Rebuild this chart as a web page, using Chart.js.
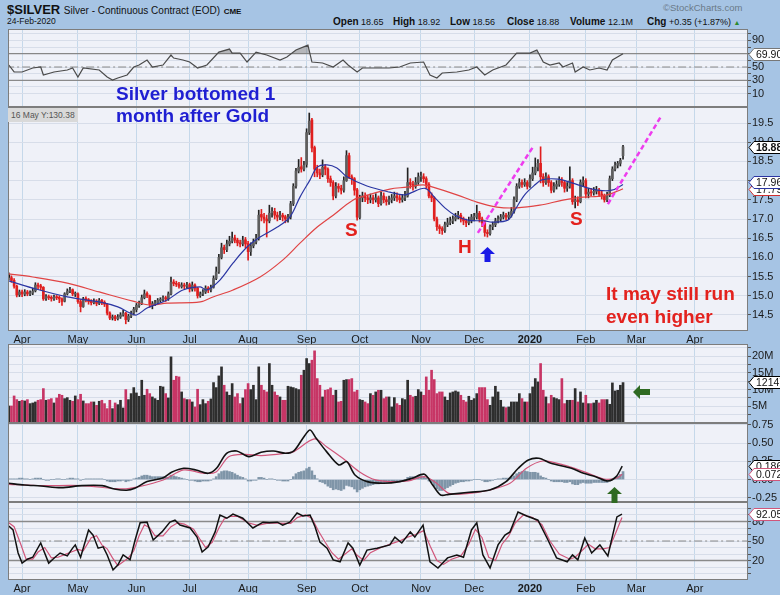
<!DOCTYPE html>
<html><head><meta charset="utf-8">
<script src="https://cdn.jsdelivr.net/npm/chart.js@4.4.1/dist/chart.umd.min.js"></script>
<style>
html,body{margin:0;padding:0}
body{width:780px;height:595px;background:#a6c4e4;position:relative;overflow:hidden;font-family:"Liberation Sans",Arial,sans-serif;color:#111}
.pn{position:absolute;left:8px;width:772px}
.pn canvas{display:block}
.t{position:absolute;white-space:nowrap;line-height:1}
.ann{position:absolute;white-space:nowrap;font-weight:bold;z-index:5}
.arr{position:absolute;z-index:5}
</style></head><body>
<div class="t" style="left:7px;top:3px;font-size:13px;font-weight:bold">$SILVER <span style="font-size:10px;font-weight:normal">Silver - Continuous Contract (EOD)</span> <span style="font-size:8px">CME</span></div>
<div class="t" style="left:7px;top:17px;font-size:8.5px">24-Feb-2020</div>
<div class="t" style="left:663px;top:3px;font-size:9.5px;color:#6b7a88">©StockCharts.com</div>
<div class="t" style="left:333px;top:17px;font-size:9px"><b style="font-size:10px">Open</b> 18.65</div>
<div class="t" style="left:393px;top:17px;font-size:9px"><b style="font-size:10px">High</b> 18.92</div>
<div class="t" style="left:450px;top:17px;font-size:9px"><b style="font-size:10px">Low</b> 18.56</div>
<div class="t" style="left:507px;top:17px;font-size:9px"><b style="font-size:10px">Close</b> 18.88</div>
<div class="t" style="left:570px;top:17px;font-size:9px"><b style="font-size:10px">Volume</b> 12.1M</div>
<div class="t" style="left:647px;top:17px;font-size:9px"><b style="font-size:10px">Chg</b> +0.35 (+1.87%) <span style="color:#2a8a2a;font-size:7px">▲</span></div>

<div class="ann" style="left:8px;top:108px;font-weight:normal;font-size:8.5px;color:#555;background:#d9d9d9;padding:2px 3px">16 May Y:130.38</div>
<div class="ann" style="left:116px;top:83px;font-size:19px;line-height:22px;color:#1f1fd2">Silver bottomed 1<br>month after Gold</div>
<div class="ann" style="left:345px;top:220px;font-size:19px;line-height:19px;color:#e3221e">S</div>
<div class="ann" style="left:458px;top:237px;font-size:19px;line-height:19px;color:#e3221e">H</div>
<div class="ann" style="left:570px;top:209px;font-size:19px;line-height:19px;color:#e3221e">S</div>
<div class="ann" style="left:606px;top:282px;font-size:19px;line-height:23px;color:#e3221e">It may still run<br>even higher</div>
<svg class="arr" style="left:480px;top:247px" width="15" height="15"><polygon points="7.5,0 15,7 10.5,7 10.5,15 4.5,15 4.5,7 0,7" fill="#1a1ae6"/></svg>
<svg class="arr" style="left:633px;top:385px" width="17" height="14"><polygon points="0,7 7,0 7,4 17,4 17,10 7,10 7,14" fill="#2f6a22"/></svg>
<svg class="arr" style="left:607px;top:487px" width="15" height="16"><polygon points="7.5,0 15,7 10.5,7 10.5,16 4.5,16 4.5,7 0,7" fill="#2f6a22"/></svg>

<script>
// ---------- DATA ----------
const monthLabels = ['Apr','May','Jun','Jul','Aug','Sep','Oct','Nov','Dec','2020','Feb','Mar','Apr'];
const monthIdx    = [5,26,48,68,90,112,132,155,175,196,217,236,258]; // trading-day index of month start (index 0 = 25-Mar-2019)

const opens = [
 15.55,15.47,15.40,15.25,15.03,
 15.10,15.04,15.10,15.04,15.07,15.13,15.28,15.26,15.22,14.93,14.98,14.96,14.92,14.97,14.96,14.92,14.86,15.05,15.12,15.16,15.04,
 15.05,14.85,14.72,14.93,14.90,14.86,14.82,14.86,14.80,14.88,14.83,14.78,14.55,14.42,14.46,14.40,14.45,14.50,14.55,14.38,14.47,14.55,
 14.64,14.74,14.80,14.95,15.06,15.00,14.77,14.78,14.82,14.88,14.91,14.95,14.92,15.05,15.36,15.32,15.30,15.24,15.28,15.25,
 15.29,15.17,15.28,15.20,15.00,15.05,15.10,15.20,15.15,15.22,15.45,15.62,16.00,16.26,16.20,16.35,16.42,16.51,16.45,16.38,16.35,16.46,
 16.36,16.15,16.30,16.40,16.50,17.12,17.05,17.00,16.95,17.16,17.20,17.10,17.05,17.10,17.06,17.00,17.05,17.40,17.86,18.25,18.36,18.30,
 18.42,19.25,19.58,18.86,18.30,18.20,18.15,18.36,18.30,18.05,17.95,17.60,17.85,17.80,17.75,18.00,18.65,18.10,18.05,17.76,
 17.04,17.55,17.60,17.55,17.50,17.55,17.50,17.55,17.40,17.60,17.50,17.45,17.50,17.55,17.60,17.55,17.50,17.55,17.60,17.95,17.90,17.85,17.95,
 18.10,18.10,18.05,17.90,17.60,17.55,17.00,16.80,16.75,16.70,16.85,16.90,16.95,17.00,17.05,17.10,17.00,16.95,16.90,16.95,
 17.05,17.05,17.15,17.00,16.90,16.65,16.62,16.80,16.85,16.95,17.00,17.05,17.10,17.05,17.10,17.20,17.50,17.85,17.95,17.90,17.95,
 17.86,18.05,18.20,18.35,18.45,18.10,17.95,18.10,17.95,17.75,17.85,17.90,18.00,17.95,17.80,17.85,18.00,17.45,17.50,17.45,17.95,
 18.00,17.65,17.70,17.68,17.72,17.75,17.65,17.60,17.50,17.62,18.05,18.30,18.40,18.45,18.65];
const highs = [
 15.60,15.52,15.45,15.28,15.15,
 15.15,15.16,15.14,15.13,15.20,15.34,15.33,15.30,15.24,15.03,15.02,15.00,15.02,15.01,15.00,14.95,15.08,15.18,15.22,15.18,15.10,
 15.08,14.90,14.96,14.97,14.93,14.90,14.92,14.90,14.93,14.91,14.87,14.80,14.58,14.50,14.49,14.51,14.56,14.62,14.57,14.52,14.60,14.70,
 14.80,14.86,15.02,15.15,15.10,15.02,14.85,14.88,14.93,14.95,15.00,14.99,15.10,15.49,15.42,15.38,15.35,15.34,15.33,15.35,
 15.33,15.36,15.31,15.22,15.10,15.16,15.26,15.24,15.28,15.52,15.75,16.08,16.37,16.32,16.45,16.55,16.66,16.58,16.50,16.45,16.55,16.52,
 16.42,16.38,16.48,16.60,17.23,17.25,17.15,17.10,17.36,17.30,17.28,17.18,17.20,17.15,17.10,17.12,17.46,17.92,18.32,18.55,18.60,18.50,
 19.35,19.76,19.62,18.90,18.40,18.30,18.54,18.42,18.33,18.12,18.00,17.95,17.92,17.88,18.10,18.78,18.72,18.15,18.08,17.80,
 17.62,17.70,17.68,17.62,17.65,17.62,17.66,17.60,17.70,17.68,17.58,17.60,17.64,17.70,17.68,17.62,17.64,17.72,18.33,18.05,17.98,18.08,18.20,
 18.22,18.18,18.10,17.95,17.68,17.58,17.05,16.85,16.80,16.92,17.02,17.05,17.08,17.15,17.20,17.15,17.05,17.00,17.05,17.12,
 17.15,17.36,17.20,17.05,16.95,16.72,16.85,16.92,17.02,17.08,17.12,17.18,17.15,17.18,17.30,17.58,17.92,18.05,18.02,18.05,18.00,
 18.15,18.35,18.59,18.55,18.88,18.18,18.20,18.15,18.00,17.95,18.00,18.10,18.08,18.00,17.95,18.36,18.05,17.60,17.58,18.02,18.10,
 18.05,17.80,17.80,17.82,17.85,17.80,17.72,17.65,17.70,18.12,18.36,18.48,18.50,18.58,18.92];
const lows = [
 15.42,15.35,15.20,14.97,14.98,
 14.98,15.00,15.00,15.00,15.03,15.10,15.18,15.15,14.88,14.88,14.90,14.86,14.88,14.90,14.82,14.75,14.84,15.02,15.08,15.00,14.98,
 14.80,14.58,14.70,14.84,14.78,14.76,14.79,14.74,14.77,14.77,14.72,14.50,14.38,14.37,14.35,14.37,14.41,14.47,14.27,14.33,14.43,14.50,
 14.58,14.70,14.77,14.92,14.95,14.70,14.66,14.74,14.78,14.83,14.86,14.85,14.88,15.02,15.26,15.24,15.20,15.20,15.18,15.20,
 15.10,15.12,15.12,14.94,14.96,15.00,15.06,15.08,15.10,15.20,15.42,15.58,15.96,16.10,16.15,16.30,16.38,16.38,16.30,16.27,16.30,16.25,
 15.93,16.05,16.25,16.35,16.45,16.95,16.90,16.53,16.90,17.05,17.00,16.95,16.98,16.95,16.90,16.92,17.00,17.35,17.80,18.20,18.22,18.25,
 18.35,19.20,18.75,18.10,18.10,18.05,18.10,18.15,17.95,17.85,17.50,17.55,17.70,17.65,17.70,17.98,18.05,17.90,17.62,16.97,
 17.00,17.45,17.45,17.40,17.42,17.40,17.44,17.32,17.36,17.42,17.36,17.38,17.42,17.48,17.46,17.42,17.44,17.48,17.57,17.80,17.75,17.80,17.90,
 17.98,17.95,17.80,17.55,17.45,16.95,16.70,16.62,16.60,16.65,16.80,16.85,16.88,16.95,17.00,16.92,16.85,16.80,16.85,16.90,
 16.95,17.00,16.92,16.80,16.55,16.53,16.58,16.72,16.80,16.90,16.95,17.00,16.98,17.00,17.05,17.15,17.45,17.80,17.82,17.85,17.78,
 17.82,18.00,18.15,18.25,17.94,17.85,17.90,17.85,17.68,17.70,17.78,17.85,17.85,17.70,17.72,17.80,17.38,17.29,17.35,17.42,17.85,
 17.55,17.55,17.60,17.62,17.65,17.58,17.52,17.44,17.45,17.58,18.00,18.25,18.33,18.38,18.56];
const closes = [
 15.48,15.40,15.25,15.02,15.10,
 15.05,15.10,15.05,15.08,15.12,15.28,15.25,15.22,14.92,14.98,14.95,14.93,14.97,14.95,14.92,14.85,15.05,15.12,15.15,15.05,15.05,
 14.85,14.72,14.92,14.90,14.85,14.82,14.85,14.80,14.88,14.82,14.78,14.55,14.42,14.45,14.40,14.45,14.50,14.55,14.38,14.47,14.55,14.65,
 14.75,14.80,14.95,15.05,15.00,14.78,14.78,14.82,14.88,14.90,14.95,14.92,15.05,15.35,15.32,15.30,15.25,15.28,15.25,15.28,
 15.18,15.28,15.20,15.00,15.05,15.10,15.20,15.15,15.22,15.45,15.62,16.00,16.25,16.20,16.35,16.42,16.50,16.45,16.38,16.35,16.45,16.35,
 16.15,16.30,16.40,16.50,17.10,17.05,17.00,16.95,17.15,17.20,17.10,17.05,17.10,17.05,17.00,17.05,17.40,17.85,18.25,18.35,18.30,18.40,
 19.25,19.55,18.85,18.30,18.20,18.15,18.35,18.30,18.05,17.95,17.60,17.85,17.80,17.75,18.00,18.65,18.10,18.05,17.75,17.05,
 17.55,17.60,17.55,17.50,17.55,17.50,17.55,17.40,17.60,17.50,17.45,17.50,17.55,17.60,17.55,17.50,17.55,17.60,17.95,17.90,17.85,17.95,18.10,
 18.10,18.05,17.90,17.60,17.55,17.00,16.80,16.75,16.70,16.85,16.90,16.95,17.00,17.05,17.10,17.00,16.95,16.90,16.95,17.05,
 17.05,17.15,17.00,16.90,16.65,16.62,16.80,16.85,16.95,17.00,17.05,17.10,17.05,17.10,17.20,17.50,17.85,17.95,17.90,17.95,17.85,
 18.05,18.20,18.35,18.45,18.10,17.95,18.10,17.95,17.75,17.85,17.90,18.00,17.95,17.80,17.85,18.00,17.45,17.50,17.45,17.95,18.00,
 17.65,17.70,17.68,17.72,17.75,17.65,17.60,17.50,17.62,18.05,18.30,18.40,18.45,18.53,18.88];
const volumes = [ // millions
 5.1,5.1,8.1,7.0,6.5,
 6.8,6.6,7.0,5.8,6.0,6.3,6.8,7.0,10.3,6.8,7.0,7.3,6.0,7.5,8.6,8.3,7.3,7.6,6.8,6.5,8.1,
 7.0,8.6,6.6,5.8,5.8,6.3,6.3,5.3,6.5,6.8,5.8,4.3,6.8,4.3,6.0,5.5,6.8,4.5,10.0,7.0,8.8,10.6,
 9.0,8.0,12.8,8.3,10.1,8.8,7.8,7.3,6.8,11.0,10.8,8.8,7.5,19.8,12.8,14.0,13.8,9.3,7.3,7.0,
 7.0,6.3,4.8,10.1,5.5,7.0,5.8,6.5,7.2,12.1,10.6,14.1,16.8,11.3,9.3,8.3,11.8,7.8,8.8,5.8,7.5,10.0,
 11.8,10.0,11.3,7.0,16.8,11.3,9.8,9.3,17.8,11.3,9.3,8.3,7.8,6.8,6.8,11.0,10.8,10.6,10.3,10.0,14.3,15.8,
 19.3,17.8,18.8,21.6,13.3,11.3,7.8,9.8,10.0,10.5,8.3,9.8,6.3,6.5,12.8,13.0,13.0,13.3,9.3,9.8,
 7.0,6.8,6.3,5.8,8.8,8.3,9.3,9.8,9.8,7.3,7.8,7.8,4.8,7.6,5.8,5.3,7.3,7.0,12.8,8.3,7.8,8.0,10.0,
 9.3,8.3,13.8,9.8,15.8,13.0,8.8,9.3,9.3,7.8,6.8,9.0,9.3,9.6,9.3,8.3,6.8,6.3,8.0,6.8,
 7.3,8.8,10.6,10.6,10.6,7.0,5.3,7.8,11.0,9.3,6.8,4.8,4.6,4.8,6.3,6.3,6.3,8.8,7.3,6.3,6.3,
 8.8,10.8,13.3,12.3,17.8,9.8,7.8,5.8,8.3,7.6,7.3,7.0,13.3,5.8,6.8,6.8,6.8,10.3,6.3,9.3,6.0,
 8.3,5.8,5.8,6.0,6.8,6.0,7.0,7.0,7.0,5.6,12.0,9.6,9.8,11.3,12.1];
const macdHist = [
 0.01,0.01,0.01,0.01,0.02,
 0.02,0.01,0.01,0.00,0.01,0.02,0.02,0.02,0.00,-0.01,-0.01,0.00,0.00,0.01,0.01,0.00,0.00,0.01,0.02,0.02,0.01,
 0.01,-0.01,0.00,0.01,0.01,0.01,0.01,0.01,0.01,0.01,0.00,-0.02,-0.03,-0.03,-0.03,-0.02,-0.02,-0.01,-0.03,-0.02,-0.01,0.01,
 0.02,0.03,0.05,0.06,0.06,0.05,0.04,0.04,0.04,0.04,0.04,0.03,0.03,0.06,0.05,0.04,0.03,0.02,0.01,0.00,
 -0.01,-0.01,-0.02,-0.03,-0.03,-0.02,-0.02,-0.02,-0.01,0.01,0.04,0.08,0.11,0.12,0.12,0.11,0.10,0.08,0.06,0.04,0.03,0.01,
 -0.02,-0.02,-0.01,-0.01,0.03,0.03,0.02,0.00,0.01,0.01,0.00,-0.01,-0.01,-0.02,-0.02,-0.02,0.00,0.04,0.08,0.10,0.11,0.12,
 0.15,0.17,0.12,0.06,0.01,-0.03,-0.04,-0.06,-0.09,-0.11,-0.14,-0.13,-0.14,-0.15,-0.13,-0.08,-0.09,-0.10,-0.13,-0.17,
 -0.14,-0.12,-0.10,-0.09,-0.08,-0.07,-0.06,-0.06,-0.05,-0.05,-0.04,-0.04,-0.03,-0.03,-0.02,-0.02,-0.01,0.00,0.03,0.04,0.04,0.04,0.05,
 0.05,0.04,0.02,-0.02,-0.04,-0.09,-0.13,-0.15,-0.15,-0.13,-0.11,-0.09,-0.07,-0.05,-0.04,-0.03,-0.03,-0.02,-0.02,-0.01,
 0.00,0.00,0.00,-0.01,-0.03,-0.03,-0.02,-0.01,0.00,0.01,0.01,0.02,0.02,0.02,0.03,0.05,0.08,0.10,0.11,0.12,0.11,
 0.10,0.10,0.10,0.09,0.05,0.03,0.02,0.00,-0.02,-0.03,-0.03,-0.03,-0.03,-0.04,-0.04,-0.03,-0.06,-0.07,-0.07,-0.05,-0.04,
 -0.05,-0.05,-0.05,-0.04,-0.04,-0.04,-0.04,-0.04,-0.04,-0.02,0.01,0.03,0.05,0.07,0.11];

const maFastX = [0,9,22,34,41,45.6,48,52,59.5,65.5,72,74.5,79.4,84.3,89.6,94.5,101,105.7,109.5,113.3,116,119.7,123.4,127.2,134.7,143.3,149,156.5,160.3,164,167.8,172.7,179,181.7,187.7,190.3,194,197.9,200.5,206.5,211.8,216.7,221.5,226.8,231];
const maFastY = [15.39,15.2,14.97,14.84,14.71,14.55,14.5,14.68,14.89,15.15,15.23,15.15,15.41,15.85,16.27,16.53,16.79,17.05,17.57,18.02,18.35,18.41,18.33,18.1,17.86,17.7,17.63,17.8,17.55,17.29,17.1,16.97,16.95,16.92,16.97,17.23,17.63,17.89,18.02,18.04,17.94,17.83,17.75,17.75,17.9];
const maSlowX = [0,9,22,34,46.7,53,59.5,72,76.8,84.3,94.5,103,109.5,116,122,129.4,134.7,143.3,149.7,155.8,159.5,168.5,176,183.6,191,199.7,208.4,215.9,223.4,229.8,231];
const maSlowY = [15.57,15.49,15.33,15.1,14.86,14.76,14.81,14.84,14.97,15.15,15.49,15.93,16.37,16.79,17.1,17.49,17.62,17.78,17.83,17.89,17.83,17.63,17.44,17.31,17.29,17.36,17.49,17.57,17.6,17.75,17.79];
const trendAX = [176.4,197.1], trendAY = [16.64,18.875];
const trendBX = [225.3,245.2], trendBY = [17.39,19.66];

const rsiX = [0,2,5,9,12,13,17,22,24,26,28,34,37,39,41,44.5,47,49,52,54,58,61,62,65.5,68,71,74.5,79,83,84,87,89.6,93,97,102,104.6,108,112.5,114,118,122,125.7,127.6,131,133,138.5,143,147,151,156,158.4,161,163,168.5,173,176,179,182,187,191,196,198.6,201,203.5,207,208.4,212,213,216,218.5,222,225,227,231];
const rsiY = [53,42.5,42.5,48.5,50,38,42.5,45.5,48.5,35,48.5,45.5,35,30.4,33.5,38,50,53,60.5,50,53,68,63.5,60.5,57.5,48.5,53,72.5,77,71,71,57.5,72.5,68,60.5,65,75.5,83,57.5,56,50,60.5,53,42.5,48.5,48.5,48.5,50,56,57.5,38,33.5,41,42.5,45.5,50,38,45.5,53,71,71,75.5,57.5,53,56,50,56,42.5,50,45.5,48.5,45.5,60.5,69.9];

const macdX = [0,5.9,12.1,19.7,27.4,35.1,39.7,44.3,47.4,52,58.1,61.2,65.8,70.4,75,78.1,81.9,85.7,90.3,94.9,99.5,104.1,107.2,111,113.3,115.6,119.5,124.1,127.1,130.2,134.8,141,147.1,151.7,156.3,159.4,162.4,165.5,173.2,180.9,187,191.6,195.4,199.3,203.9,211.6,216.2,220.7,225.3,228.4,230.7];
const macdY = [-0.051,-0.074,-0.088,-0.111,-0.083,-0.083,-0.129,-0.147,-0.12,-0.028,0.026,0.1,0.155,0.132,0.086,0.155,0.361,0.393,0.315,0.375,0.393,0.361,0.393,0.589,0.681,0.567,0.384,0.201,0.246,0.063,-0.028,-0.051,-0.028,0.018,0.073,-0.074,-0.212,-0.203,-0.175,-0.143,-0.028,0.155,0.269,0.292,0.224,0.155,0.086,0.04,-0.019,0.04,0.186];
const signalX = [0,12.1,27.4,42.8,48.9,58.1,65.8,73.5,78.1,82.7,88.8,94.9,104.1,107.2,114.9,119.5,125.6,131.8,137.9,144,150.2,156.3,160.9,165.5,173.2,180.9,188.5,194.7,200.8,208.5,216.2,223.8,228.4,230.7];
const signalY = [-0.065,-0.083,-0.083,-0.129,-0.097,-0.005,0.132,0.086,0.109,0.315,0.347,0.329,0.361,0.384,0.558,0.452,0.292,0.109,-0.005,-0.028,-0.019,0.04,-0.051,-0.189,-0.189,-0.143,-0.051,0.155,0.255,0.201,0.109,0.008,0.018,0.072];

const stochKX = [0,1.6,3.5,5,7,9,12,15,17.4,19.3,22,24,25,27,30,31.7,33.6,35.5,37,39.2,41,43,45.6,47.5,49.4,52,54.3,57.6,60.6,62.5,64.4,68.2,70.8,72.7,75,77.6,79.4,82,84.3,88,91.8,95.6,98,101,103,105.7,108.4,110.6,113.3,115.2,117,119.7,122,124.6,127.6,129.4,132,134.7,138.5,143.3,145.2,147.8,151,152.7,155.8,158.4,161.4,165,168.5,171,174,176,178.3,181,184,186.6,188.5,191.5,194.8,199,202.4,206,210,212,214,216.6,219.2,222.3,225.3,228.7,230.6];
const stochKY = [73,67,31.5,16,22,25,47,16,25,31.5,27,39,44,25,67,59,39,41,28.5,5.4,13,28.5,21,51.5,78,79,51.5,64,79,82,74.5,70,56,33,41,64,90,85,91.5,85,70,79,78,79,74.5,79,93,88.5,90,71.5,48.5,39,21,18,47,39,13,36,39,44,56,47,64,56,74.5,18,8.5,24,28.5,25,67,78,28.5,8.5,44,59,64,94.5,88.5,82,54.6,24,18,28.5,21,54.6,31.5,44,27,87,91.5];
const stochDX = [0,2,4.5,6.5,9,11,13.5,16,18.5,21,23.5,26,28,31,33,35,37,39,41,43,45,47,49,51,53,55,58,61,63.5,66,69.5,72,74,76.5,79,81,83.5,86,90,93.5,97,100,103,106,108.5,111.5,114,116.5,119,121.5,124,126.5,129,131,133.5,136,140,144,147,150,153,156,158.5,161,163.5,166.5,170,173,175.5,178,180.5,183,185.5,188,190.5,193.5,197,200.5,203.5,207,211,213,215.5,218,220.5,223.5,226,229,230.6];
const stochDY = [78,72,45,22,22,33,40,24,25,29,33,37,35,55,58,44,38,24,12,18,24,35,58,75,70,58,58,72,78,76,68,52,40,48,70,84,88,88,78,74,77,78,77,77,86,90,85,65,48,32,22,30,38,28,20,32,40,46,50,56,60,66,42,20,14,22,27,45,68,55,25,20,45,58,78,90,86,75,50,30,22,25,35,45,38,38,40,70,86];

// ---------- RENDER ----------
const FONT = '"Liberation Sans", Arial, sans-serif';
Chart.defaults.font.family = FONT;
Chart.defaults.color = '#1a1a1a';
const P = (xs, ys) => xs.map((x, i) => ({x, y: ys[i]}));
const idx = closes.map((_, i) => i);
const isDown = i => i > 0 && closes[i] < closes[i-1];

function panelPlugin(tags){
  return {
    id: 'panel',
    beforeDraw(c){
      const a = c.chartArea, g = c.ctx;
      g.save(); g.fillStyle = '#eff1f8'; g.fillRect(a.left, a.top, a.right - a.left, a.bottom - a.top); g.restore();
    },
    afterDraw(c){
      const a = c.chartArea, g = c.ctx;
      g.save();
      g.strokeStyle = '#7d7d7d'; g.lineWidth = 1;
      g.strokeRect(a.left + 0.5, a.top + 0.5, a.right - a.left - 1, a.bottom - a.top - 1);
      (tags || []).forEach(t => {
        const y = Math.round(c.scales.y.getPixelForValue(t.v)) + 0.5;
        const x = a.right + 1;
        g.font = (t.b ? 'bold ' : '') + '10.5px ' + FONT;
        const w = g.measureText(t.t).width + 5, h = 12;
        g.beginPath();
        g.moveTo(x, y); g.lineTo(x + 5, y - h/2); g.lineTo(x + 5 + w, y - h/2);
        g.lineTo(x + 5 + w, y + h/2); g.lineTo(x + 5, y + h/2); g.closePath();
        g.fillStyle = '#ffffff'; g.fill();
        g.strokeStyle = t.c; g.lineWidth = 1; g.stroke();
        g.fillStyle = '#111'; g.textBaseline = 'middle'; g.textAlign = 'left';
        g.fillText(t.t, x + 7, y + 0.5);
      });
      g.restore();
    }
  };
}

function xAxis(labels){
  return {
    type: 'linear', min: -0.3, max: 278, offset: false,
    afterBuildTicks: s => { s.ticks = monthIdx.map(v => ({value: v})); },
    afterFit: s => { s.height = labels ? 13 : 0; s.paddingLeft = 0; s.paddingRight = 0; },
    grid: {color: '#c5d8ea', drawTicks: false, offset: false},
    border: {display: false},
    ticks: {
      display: labels, autoSkip: false, maxRotation: 0, padding: 2, color: '#1a1a1a',
      font: ctx => ({size: 11, family: FONT, weight: (ctx.tick && ctx.tick.value === 196) ? 'bold' : 'normal'}),
      callback: v => monthLabels[monthIdx.indexOf(v)]
    }
  };
}
function yAxis(min, max, ticks, fmt){
  return {
    position: 'right', min, max,
    afterBuildTicks: s => { s.ticks = ticks.map(v => ({value: v})); },
    afterFit: s => { s.width = 32; s.paddingTop = 0; s.paddingBottom = 0; },
    grid: {color: '#d7dde9', tickLength: 3, tickColor: '#555', drawTicks: true},
    border: {display: false},
    ticks: {autoSkip: false, padding: 1, color: '#1a1a1a', font: {size: 11, family: FONT}, callback: fmt}
  };
}
function refLine(v, dash){
  return {type: 'line', data: [{x: -1, y: v}, {x: 280, y: v}], borderColor: '#8a8a8a',
          borderWidth: dash ? 1 : 1.3, borderDash: dash || [], pointRadius: 0, order: 9};
}
function makeChart(top, h, labels, datasets, x, y, tags){
  const div = document.createElement('div');
  div.className = 'pn';
  const ch = 6 + h + (labels ? 13 : 6);
  div.style.top = (top - 6) + 'px'; div.style.height = ch + 'px';
  const cv = document.createElement('canvas');
  cv.width = 772; cv.height = ch; cv.style.width = '772px'; cv.style.height = ch + 'px';
  div.appendChild(cv);
  document.body.insertBefore(div, document.body.querySelector('.ann'));
  return new Chart(cv, {
    type: 'bar',
    data: {datasets},
    options: {
      responsive: false, animation: false, events: [],
      layout: {padding: {top: 6, bottom: labels ? 0 : 6, left: 0, right: 0}},
      plugins: {legend: {display: false}, tooltip: {enabled: false}},
      scales: {x, y}
    },
    plugins: [panelPlugin(tags)]
  });
}

// RSI
makeChart(29, 78, false, [
  refLine(70), refLine(30), refLine(50, [8, 3, 2, 3]),
  {type: 'line', data: P(rsiX, rsiY), borderColor: '#4a4a4a', borderWidth: 1.2, pointRadius: 0, tension: 0,
   fill: {target: {value: 70}, above: 'rgba(110,110,110,0.45)', below: 'rgba(0,0,0,0)'}, order: 1}
], xAxis(false), yAxis(-10.2, 107.2, [10,20,30,40,50,60,70,80,90,100], v => [10,30,50,90].includes(v) ? String(v) : ''),
  [{v: 69.90, t: '69.90', c: '#777'}]);

// Price
const candleColor = i => {
  const filled = closes[i] < opens[i];
  if (isDown(i)) return filled ? '#e01f1f' : '#ee6a6a';
  return filled ? '#1a1a1a' : '#5e5e5e';
};
makeChart(107, 224, true, [
  {type: 'line', data: P(trendAX, trendAY), borderColor: '#ee3cee', borderWidth: 2.5, borderDash: [5, 3], pointRadius: 0, order: 0},
  {type: 'line', data: P(trendBX, trendBY), borderColor: '#ee3cee', borderWidth: 2.5, borderDash: [5, 3], pointRadius: 0, order: 0},
  {type: 'line', data: P(maFastX, maFastY), borderColor: '#2b36a3', borderWidth: 1.2, pointRadius: 0, tension: 0.35, order: 1},
  {type: 'line', data: P(maSlowX, maSlowY), borderColor: '#e04444', borderWidth: 1.2, pointRadius: 0, tension: 0.35, order: 1},
  {type: 'bar', data: idx.map(i => ({x: i, y: [opens[i], closes[i]]})), backgroundColor: c => candleColor(c.dataIndex),
   barThickness: 2, minBarLength: 1, grouped: false, borderWidth: 0, order: 2},
  {type: 'bar', data: idx.map(i => ({x: i, y: [lows[i], highs[i]]})), backgroundColor: c => isDown(c.dataIndex) ? '#e01f1f' : '#222',
   barThickness: 1, grouped: false, borderWidth: 0, order: 3}
], xAxis(true), yAxis(14.083, 19.917, [14.5,15,15.5,16,16.5,17,17.5,18,18.5,19,19.5], v => v.toFixed(1)),
  [{v: 17.79, t: '17.79', c: '#d03030'}, {v: 17.96, t: '17.96', c: '#2b36a3'}, {v: 18.88, t: '18.88', c: '#000', b: true}]);

// Volume
makeChart(344, 79, false, [
  {type: 'bar', data: idx.map(i => ({x: i, y: volumes[i]})), backgroundColor: c => isDown(c.dataIndex) ? '#c73565' : '#2e2e2e',
   barThickness: 2, grouped: false, borderWidth: 0}
], xAxis(false), yAxis(0, 23.65, [2.5,5,7.5,10,12.5,15,17.5,20,22.5], v => (v % 5 === 0) ? v + 'M' : ''),
  [{v: 12.147, t: '1214708', c: '#000'}]);

// MACD
makeChart(423, 79, false, [
  {type: 'line', data: P(macdX, macdY), borderColor: '#111', borderWidth: 1.6, pointRadius: 0, tension: 0.3, order: 1},
  {type: 'line', data: P(signalX, signalY), borderColor: '#d0567a', borderWidth: 1.2, pointRadius: 0, tension: 0.3, order: 2},
  {type: 'bar', data: idx.map(i => ({x: i, y: macdHist[i]})), backgroundColor: '#7f95a8', barThickness: 2, grouped: false, borderWidth: 0, order: 3}
], xAxis(false), yAxis(-0.308, 0.777, [-0.25, 0, 0.25, 0.5, 0.75], v => v.toFixed(2)),
  [{v: 0.186, t: '0.186', c: '#000'}, {v: 0.072, t: '0.072', c: '#d0567a'}]);

// Stochastics
makeChart(502, 78, true, [
  refLine(80), refLine(20), refLine(50, [8, 3, 2, 3]),
  {type: 'line', data: P(stochDX, stochDY), borderColor: '#d0567a', borderWidth: 1.2, pointRadius: 0, tension: 0, order: 2},
  {type: 'line', data: P(stochKX, stochKY), borderColor: '#111', borderWidth: 1.5, pointRadius: 0, tension: 0, order: 1}
], xAxis(true), yAxis(-10, 110, [0,10,20,30,40,50,60,70,80,90,100], v => [20,50,80].includes(v) ? String(v) : ''),
  [{v: 92.05, t: '92.05', c: '#d0567a'}]);
</script>
</body></html>
